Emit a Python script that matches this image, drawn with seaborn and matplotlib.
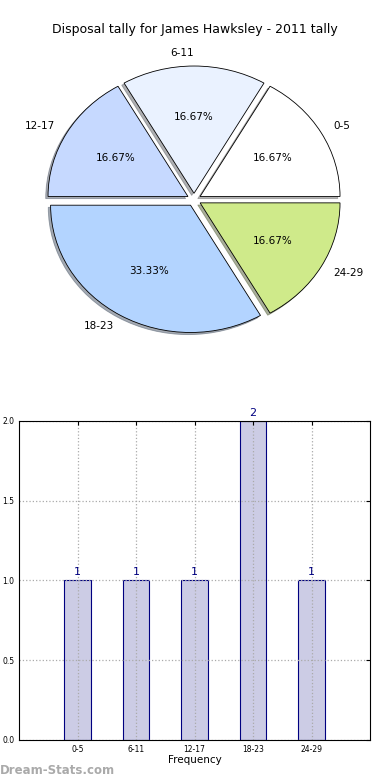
import matplotlib
matplotlib.use("Agg")
import matplotlib.pyplot as plt
import seaborn as sns
import pandas as pd

# chart data
categories = ["0-5", "6-11", "12-17", "18-23", "24-29"]
counts = [1, 1, 1, 2, 1]
pie_colors = ["#FFFFFF", "#EAF2FF", "#C6D9FF", "#B3D4FF", "#CFEA8A"]

sns.set_style("white")
plt.rcParams["font.family"] = ["DejaVu Sans"]
plt.rcParams["text.color"] = "black"
plt.rcParams["axes.labelcolor"] = "black"
plt.rcParams["xtick.color"] = "black"
plt.rcParams["ytick.color"] = "black"

fig = plt.figure(figsize=(3.9, 7.8), dpi=100)

# pie on top
ax1 = fig.add_axes([0.049, 0.540, 0.897, 0.408])
ax1.pie(counts, labels=categories, colors=pie_colors, autopct="%.2f%%",
        explode=[0.05] * len(counts),
        shadow={"ox": -0.012, "oy": -0.012, "shade": 0.6},
        startangle=0,
        wedgeprops={"edgecolor": "black", "linewidth": 0.6},
        textprops={"fontsize": 7.5, "color": "black"})
ax1.set_aspect("auto")
ax1.set_xlim(-1.25, 1.25)
ax1.set_ylim(-1.25, 1.25)
fig.text(0.5, 0.962, "Disposal tally for James Hawksley - 2011 tally",
         ha="center", va="center", fontsize=9, color="black")

# bar chart below
ax2 = fig.add_axes([0.049, 0.0513, 0.90, 0.409])
df = pd.DataFrame({"cat": categories, "count": counts})
sns.barplot(data=df, x="cat", y="count", ax=ax2, width=0.45,
            color="#CCCCE5", edgecolor="#000080", linewidth=0.8, saturation=1)
ax2.set_xlim(-1, 5)
ax2.set_ylim(0, 2)
ax2.set_yticks([0, 0.5, 1.0, 1.5, 2.0])
ax2.set_yticklabels(["0.0", "0.5", "1.0", "1.5", "2.0"])
ax2.grid(True, linestyle=":", color="#AAAAAA", linewidth=0.9)
ax2.set_axisbelow(False)
ax2.tick_params(labelsize=5.5, direction="in", top=True, right=True, length=3)
for s in ax2.spines.values():
    s.set_color("black")
    s.set_linewidth(0.8)
    s.set_zorder(5)
ax2.set_xlabel("Frequency", fontsize=7.5, labelpad=1)
ax2.set_ylabel("")
for i, v in enumerate(counts):
    ax2.text(i, v + 0.02, str(v), ha="center", va="bottom",
             color="#000080", fontsize=8)

fig.text(0.0, 0.012, "Dream-Stats.com", fontsize=8.5, color="#AAAAAA",
         fontweight="bold", ha="left", va="center")

fig.savefig("out.png", dpi=100)
